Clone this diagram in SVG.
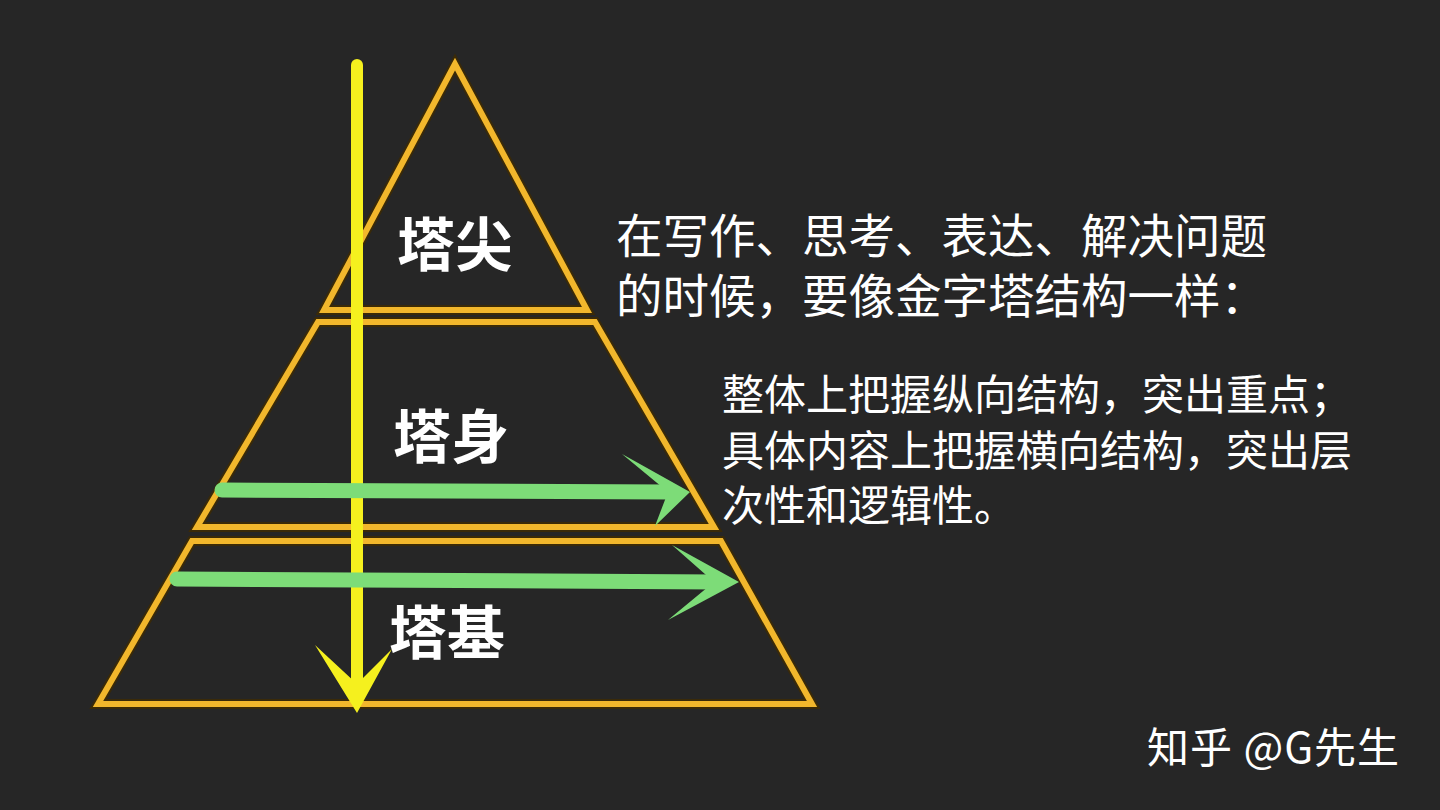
<svg xmlns="http://www.w3.org/2000/svg" width="1440" height="810" viewBox="0 0 1440 810">
<style>
.tier{fill:none;stroke:#f2b72c;stroke-width:6;stroke-linejoin:miter}
.tierEdge{fill:none;stroke:#3a2a08;stroke-width:10;stroke-linejoin:miter}
.lbl{font-family:"Noto Sans CJK SC","Noto Sans",sans-serif;font-weight:700;fill:#ffffff;font-size:58px;text-anchor:middle}
.txt{font-family:"Noto Sans CJK SC","Noto Sans",sans-serif;fill:#ffffff}
</style>
<rect width="1440" height="810" fill="#262626"/>
<g id="tier-top">
<polygon class="tierEdge" points="455,64 324,310 587,310"/>
<polygon class="tier" points="455,64 324,310 587,310"/>
<text class="lbl" x="455" y="266">塔尖</text>
</g>
<g id="tier-middle">
<polygon class="tierEdge" points="318,322 595,322 714,527 197,527"/>
<polygon class="tier" points="318,322 595,322 714,527 197,527"/>
<text class="lbl" x="451" y="458">塔身</text>
</g>
<g id="tier-bottom">
<polygon class="tierEdge" points="192,541 721,541 812,704 98,704"/>
<polygon class="tier" points="192,541 721,541 812,704 98,704"/>
<text class="lbl" x="447" y="654">塔基</text>
</g>
<g id="connectors">
<line x1="357" y1="65" x2="357" y2="690" stroke="#f5f01e" stroke-width="12" stroke-linecap="round"/>
<polygon points="315,645 357,684 392,649 357,713" fill="#f5f01e"/>
<line x1="222" y1="490" x2="670" y2="492" stroke="#7ddc78" stroke-width="15" stroke-linecap="round"/>
<polygon points="622,454 690,492 655,526 668,492" fill="#7ddc78"/>
<line x1="177" y1="579" x2="718" y2="582" stroke="#7ddc78" stroke-width="15" stroke-linecap="round"/>
<polygon points="672,545 739,582 668,620 714,582" fill="#7ddc78"/>
</g>
<g id="intro-text">
<text class="txt" font-size="46.5"><tspan x="616" y="253">在写作、思考、表达、解决问题</tspan><tspan x="616" y="313">的时候，要像金字塔结构一样：</tspan></text>
</g>
<g id="detail-text">
<text class="txt" font-size="42"><tspan x="722" y="410">整体上把握纵向结构，突出重点；</tspan><tspan x="722" y="466">具体内容上把握横向结构，突出层</tspan><tspan x="722" y="521">次性和逻辑性。</tspan></text>
</g>
<g id="watermark">
<text class="txt" font-size="42" x="1147" y="763" letter-spacing="1">知乎 @G先生</text>
</g>
</svg>
